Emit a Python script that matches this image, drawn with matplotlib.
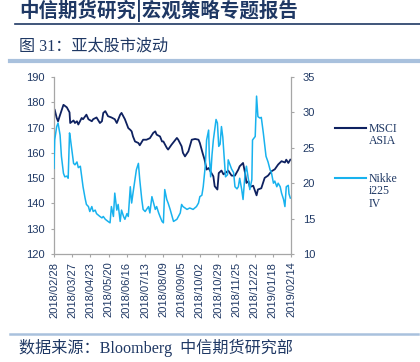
import matplotlib
matplotlib.use('Agg')
import matplotlib.pyplot as plt
from matplotlib.lines import Line2D
import pandas as pd

# ---------------- data ----------------
start_date = '2018-02-28'

msci_days = [0, 1, 4, 6, 9, 14, 19, 21, 23, 24, 29, 31, 34, 36, 41, 43, 48, 51, 56, 58,
             63, 68, 71, 73, 76, 80, 85, 90, 93, 98, 100, 105, 110, 113, 115, 117, 120, 125,
             127, 132, 137, 142, 147, 150, 152, 157, 160, 162, 167, 169, 174, 182, 184, 189,
             191, 194, 199, 204, 209, 214, 216, 220, 223, 226, 229, 231, 236, 238, 242, 244,
             248, 251, 256, 258, 263, 268, 273, 275, 280, 283, 285, 288, 290, 295, 300, 302,
             307, 312, 317, 322, 327, 332, 337, 342, 344, 347, 350]
msci_asia = [177.4, 177.1, 173.8, 172.5, 175.0, 179.0, 178.0, 177.0, 176.0, 171.8, 172.8,
             171.8, 172.5, 171.2, 173.8, 173.3, 175.1, 173.3, 172.5, 173.3, 174.0, 171.8,
             172.5, 175.8, 176.5, 174.5, 174.0, 173.3, 171.8, 175.1, 175.8, 173.3, 169.8,
             169.1, 168.5, 166.5, 164.5, 163.9, 163.0, 165.2, 165.2, 165.8, 167.9, 168.5,
             167.2, 166.5, 164.5, 164.5, 162.0, 161.3, 163.2, 165.9, 165.2, 162.6, 160.0,
             158.6, 160.6, 165.2, 165.5, 165.2, 163.9, 160.0, 157.3, 153.4, 154.0, 153.0,
             150.7, 146.8, 145.5, 152.0, 153.0, 151.5, 152.5, 153.0, 151.0, 151.0, 153.4,
             154.7, 156.0, 152.0, 148.1, 148.8, 146.5, 147.0, 143.2, 145.5, 146.0, 150.1,
             151.0, 152.7, 153.5, 155.4, 156.7, 156.2, 157.3, 156.0, 157.3]

vix_days = [0, 1, 4, 6, 9, 11, 14, 16, 19, 21, 23, 24, 28, 29, 31, 34, 36, 39, 41, 43, 46,
            48, 51, 53, 56, 58, 61, 63, 68, 71, 73, 76, 80, 83, 85, 88, 90, 93, 95, 98, 100,
            103, 105, 108, 110, 113, 115, 117, 122, 125, 127, 130, 132, 135, 140, 142, 145,
            147, 150, 152, 155, 157, 160, 162, 164, 167, 169, 172, 174, 177, 182, 187, 189,
            191, 197, 201, 206, 211, 214, 216, 219, 221, 224, 226, 229, 230, 232, 234, 236,
            240, 242, 244, 246, 248, 250, 252, 254, 257, 258, 263, 266, 268, 271, 273, 275,
            278, 280, 283, 285, 288, 290, 293, 294, 298, 300, 302, 305, 307, 310, 312, 314,
            317, 320, 322, 325, 327, 330, 332, 335, 337, 340, 342, 344, 347, 348, 350]
nikkei225_vi = [22.1, 26.1, 28.0, 28.5, 26.8, 23.8, 21.4, 20.9, 21.0, 20.7, 27.1, 26.5, 23.5,
                22.8, 22.6, 23.0, 22.2, 22.4, 20.9, 19.5, 17.9, 17.0, 16.7, 16.0, 16.7, 16.0,
                16.2, 15.7, 15.3, 15.1, 15.3, 14.9, 14.6, 14.4, 16.7, 15.3, 18.6, 16.2, 17.0,
                14.6, 16.2, 15.3, 14.9, 15.7, 15.3, 19.5, 17.2, 18.6, 21.9, 22.8, 20.5, 17.7,
                16.3, 16.0, 16.7, 15.8, 18.1, 17.4, 16.3, 16.7, 15.8, 15.3, 14.6, 14.4, 19.1,
                17.7, 17.2, 16.3, 15.6, 14.6, 14.9, 15.8, 17.0, 16.7, 16.3, 16.5, 16.3, 16.7,
                17.2, 18.1, 18.3, 19.5, 22.4, 26.1, 27.5, 23.8, 20.9, 24.0, 26.1, 29.0, 28.5,
                25.2, 25.5, 28.0, 26.5, 23.8, 20.9, 21.2, 23.3, 22.0, 21.5, 19.5, 19.2, 19.5,
                20.7, 19.1, 17.7, 21.4, 22.4, 20.5, 19.1, 20.5, 26.1, 26.6, 32.3, 29.4, 29.2,
                29.3, 27.1, 25.5, 23.8, 23.0, 21.9, 21.5, 20.0, 20.3, 19.5, 20.0, 19.5, 18.6,
                17.7, 16.7, 19.5, 19.7, 18.5, 17.9]

tick_labels = ['2018/02/28', '2018/03/27', '2018/04/23', '2018/05/20', '2018/06/16',
               '2018/07/13', '2018/08/09', '2018/09/05', '2018/10/02', '2018/10/29',
               '2018/11/25', '2018/12/22', '2019/01/18', '2019/02/14']
left_ticks = [120, 130, 140, 150, 160, 170, 180, 190]
right_ticks = [10, 15, 20, 25, 30, 35]

legend_labels = ['MSCI\nASIA', 'Nikke\ni225\nIV']
header_text = '中信期货研究|宏观策略专题报告'
title_text = '图 31：亚太股市波动'
source_text = '数据来源：Bloomberg  中信期货研究部'

# ---------------- style ----------------
DARK = '#0E2160'
LIGHT = '#18B2EE'
NAVY_TXT = '#1F3864'
GRID_GREY = '#A6A6A6'
BAND = '#A9C1DD'

W, H = 420, 362
fig = plt.figure(figsize=(W / 100, H / 100), dpi=100)
fig.patch.set_facecolor('white')

def fx(px):
    return px / W

def fy(py):
    return 1 - py / H

ax = fig.add_axes([fx(54), fy(254), fx(291) - fx(54), fy(77) - fy(254)])
ax2 = ax.twinx()

t0 = pd.Timestamp(start_date)
x_msci = t0 + pd.to_timedelta(msci_days, unit='D')
x_vix = t0 + pd.to_timedelta(vix_days, unit='D')
tick_dates = pd.to_datetime(tick_labels, format='%Y/%m/%d')

ax.plot(x_msci, msci_asia, color=DARK, lw=1.3, solid_joinstyle='round')
ax2.plot(x_vix, nikkei225_vi, color=LIGHT, lw=1.1, solid_joinstyle='round')

ax.set_xlim(tick_dates[0], tick_dates[-1])
ax.set_ylim(left_ticks[0], left_ticks[-1])
ax2.set_ylim(right_ticks[0], right_ticks[-1])

ax.set_xticks(tick_dates)
ax.set_xticklabels(tick_labels, rotation=90, family='Liberation Sans', fontsize=8,
                   color=NAVY_TXT)
ax.set_yticks(left_ticks)
ax.set_yticklabels([str(v) for v in left_ticks], family='Liberation Sans', fontsize=8,
                   color=NAVY_TXT)
ax2.set_yticks(right_ticks)
ax2.set_yticklabels([str(v) for v in right_ticks], family='Liberation Sans', fontsize=8,
                    color=NAVY_TXT)

for a in (ax, ax2):
    a.spines['top'].set_visible(False)
    for s in ('left', 'right', 'bottom'):
        a.spines[s].set_color(GRID_GREY)
        a.spines[s].set_linewidth(0.9)
    a.tick_params(axis='both', direction='out', length=2.5, width=0.8, color=GRID_GREY,
                  pad=3)
ax.spines['right'].set_visible(False)
ax2.spines['left'].set_visible(False)
ax2.spines['bottom'].set_visible(False)
ax.tick_params(axis='y', pad=4)
ax2.tick_params(axis='y', pad=6)
ax.tick_params(axis='x', pad=3)
ax.patch.set_alpha(0)

# ---------------- legend (manual) ----------------
fig.add_artist(Line2D([fx(335), fx(366)], [fy(128), fy(128)], color=DARK, lw=1.5))
fig.text(fx(369), fy(122.5), legend_labels[0], ha='left', va='top', fontsize=8.5,
         family='Liberation Serif', color=NAVY_TXT, linespacing=1.1)
fig.add_artist(Line2D([fx(335), fx(366)], [fy(178), fy(178)], color=LIGHT, lw=1.5))
fig.text(fx(369), fy(172.5), legend_labels[1], ha='left', va='top', fontsize=8.5,
         family='Liberation Serif', color=NAVY_TXT, linespacing=1.1)

# ---------------- header / footer ----------------
fig.text(fx(19), fy(11), header_text, ha='left', va='center', fontsize=14,
         fontweight='bold', family=['Noto Sans CJK SC', 'DejaVu Sans'], color=NAVY_TXT)
fig.add_artist(Line2D([fx(15), fx(420)], [fy(23.5), fy(23.5)], color=NAVY_TXT, lw=1.2))
fig.text(fx(19), fy(47), title_text, ha='left', va='center', fontsize=11.6,
         family=['Liberation Serif', 'Noto Sans CJK SC'], color=NAVY_TXT)
fig.add_artist(Line2D([fx(10), fx(418)], [fy(61), fy(61)], color=BAND, lw=3))
fig.add_artist(Line2D([fx(10), fx(418)], [fy(334), fy(334)], color=BAND, lw=1.8))
fig.text(fx(19), fy(348), source_text, ha='left', va='center', fontsize=11.6,
         family=['Liberation Serif', 'Noto Sans CJK SC'], color=NAVY_TXT)

fig.savefig('out.png', dpi=100, facecolor='white')
